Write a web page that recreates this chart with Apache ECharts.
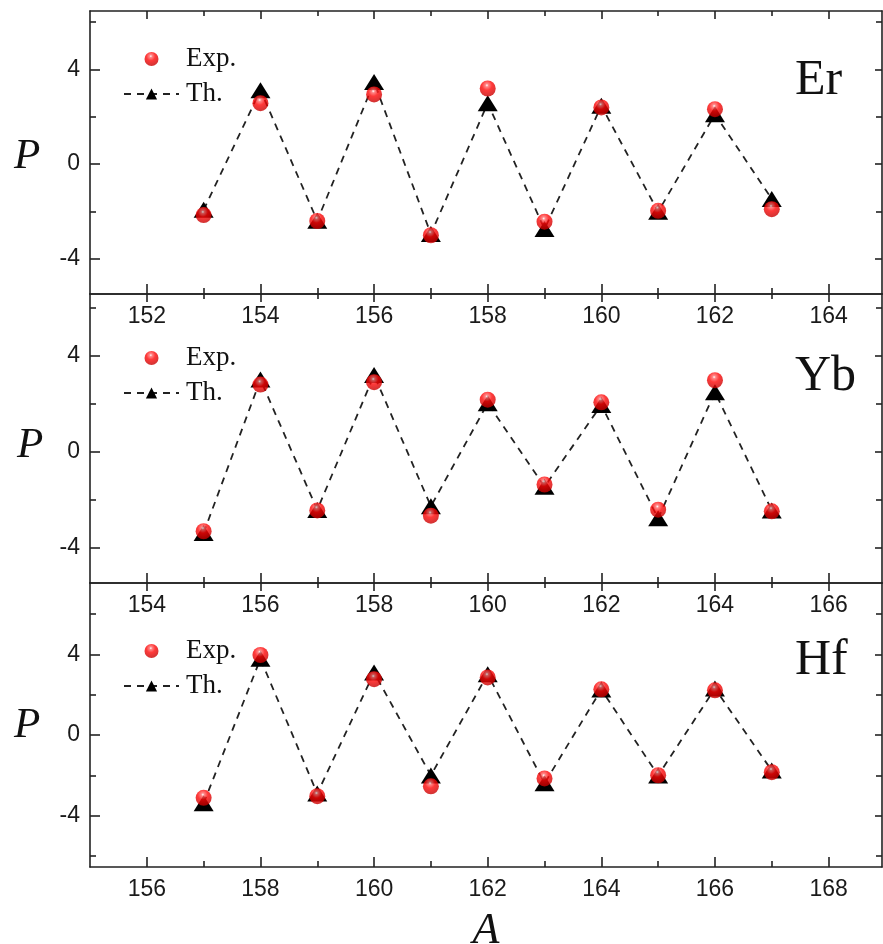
<!DOCTYPE html>
<html>
<head>
<meta charset="utf-8">
<script src="https://cdn.jsdelivr.net/npm/echarts@6/dist/echarts.min.js"></script>
<style>
html,body{margin:0;padding:0;background:#fff;}
#chart{width:883px;height:944px;}
</style>
</head>
<body>
<div id="chart"></div>
<script>
// ---- data ----
const elements = ['Er', 'Yb', 'Hf'];
const A_Er = [153, 154, 155, 156, 157, 158, 159, 160, 161, 162, 163];
const Er_exp = [-2.15, 2.57, -2.40, 2.94, -3.00, 3.19, -2.43, 2.39, -1.97, 2.32, -1.90];
const Er_th  = [-1.93, 3.12, -2.39, 3.46, -2.95, 2.57, -2.74, 2.46, -2.01, 2.10, -1.47];

const A_Yb = [155, 156, 157, 158, 159, 160, 161, 162, 163, 164, 165];
const Yb_exp = [-3.31, 2.81, -2.44, 2.91, -2.66, 2.18, -1.36, 2.07, -2.41, 2.99, -2.48];
const Yb_th  = [-3.38, 3.02, -2.42, 3.21, -2.27, 2.03, -1.45, 1.96, -2.77, 2.49, -2.44];

const A_Hf = [157, 158, 159, 160, 161, 162, 163, 164, 165, 166, 167];
const Hf_exp = [-3.11, 3.97, -3.03, 2.77, -2.54, 2.86, -2.15, 2.27, -1.99, 2.22, -1.84];
const Hf_th  = [-3.38, 3.78, -2.90, 3.10, -2.00, 3.02, -2.39, 2.26, -2.00, 2.31, -1.76];

// tick labels
const xMajor_Er = [152, 154, 156, 158, 160, 162, 164];
const xMinor_Er = [153, 155, 157, 159, 161, 163];
const xMajor_Yb = [154, 156, 158, 160, 162, 164, 166];
const xMinor_Yb = [155, 157, 159, 161, 163, 165];
const xMajor_Hf = [156, 158, 160, 162, 164, 166, 168];
const xMinor_Hf = [157, 159, 161, 163, 165, 167];
const yMajor = [-4, 0, 4];
const yMinor_Er = [-2, 2, 6];
const yMinor_Yb = [-2, 2, 6];
const yMinor_Hf = [-6, -2, 2, 6];

const legendNames = ['Exp.', 'Th.'];
const xAxisTitle = 'A';
const yAxisTitle = 'P';

// ---- layout (not data) ----
const panelData = [
  {A: A_Er, exp: Er_exp, th: Er_th, xMaj: xMajor_Er, xMin: xMinor_Er, yMin: yMinor_Er},
  {A: A_Yb, exp: Yb_exp, th: Yb_th, xMaj: xMajor_Yb, xMin: xMinor_Yb, yMin: yMinor_Yb},
  {A: A_Hf, exp: Hf_exp, th: Hf_th, xMaj: xMajor_Hf, xMin: xMinor_Hf, yMin: yMinor_Hf}
];
const layout = [
  {top: 11,  height: 283, xr: [151, 164.94], yr: [-5.48, 6.46], legendTop: 44,  titleTop: 56,  pX: 28, pY: 157},
  {top: 294, height: 289, xr: [153, 166.94], yr: [-5.47, 6.59], legendTop: 343, titleTop: 352, pX: 31, pY: 446},
  {top: 583, height: 284, xr: [155, 168.94], yr: [-6.54, 7.54], legendTop: 636, titleTop: 636, pX: 28, pY: 726}
];

const axisColor = '#222';
const lineSt = {color: axisColor, width: 1.6};
const sansFont = 'Liberation Sans, Arial, sans-serif';
const serifFont = 'Liberation Serif, Times New Roman, serif';

const ballColor = {
  type: 'radial', x: 0.45, y: 0.3, r: 0.7,
  colorStops: [
    {offset: 0, color: '#ffffff'},
    {offset: 0.14, color: '#ff6a6a'},
    {offset: 0.45, color: '#ff0808'},
    {offset: 1, color: '#c40000'}
  ]
};

const grids = [], xAxes = [], yAxes = [], series = [], legends = [], titles = [], graphics = [];

panelData.forEach((pd, g) => {
  const L = layout[g];
  grids.push({left: 90, width: 792, top: L.top, height: L.height, containLabel: false, outerBoundsMode: 'none'});

  const baseX = {type: 'value', gridIndex: g, min: L.xr[0], max: L.xr[1], splitLine: {show: false}};
  const xb = Object.assign({}, baseX, {
    position: 'bottom',
    axisLine: {show: true, onZero: false, lineStyle: lineSt},
    axisTick: {show: true, inside: true, length: 10, customValues: pd.xMaj, lineStyle: lineSt},
    axisLabel: {show: true, customValues: pd.xMaj, margin: 11, fontSize: 23, fontFamily: sansFont, color: '#1a1a1a'}
  });
  if (g === 2) {
    xb.name = xAxisTitle;
    xb.nameLocation = 'middle';
    xb.nameGap = 42;
    xb.nameTextStyle = {fontFamily: serifFont, fontStyle: 'italic', fontSize: 44, color: '#111'};
  }
  xAxes.push(xb);
  xAxes.push(Object.assign({}, baseX, {
    position: 'bottom',
    axisLine: {show: false, onZero: false},
    axisTick: {show: true, inside: true, length: 6, customValues: pd.xMin, lineStyle: lineSt},
    axisLabel: {show: false}
  }));
  xAxes.push(Object.assign({}, baseX, {
    position: 'top',
    axisLine: {show: true, onZero: false, lineStyle: lineSt},
    axisTick: {show: true, inside: true, length: 8, customValues: pd.xMaj, lineStyle: lineSt},
    axisLabel: {show: false}
  }));
  xAxes.push(Object.assign({}, baseX, {
    position: 'top',
    axisLine: {show: false, onZero: false},
    axisTick: {show: true, inside: true, length: 5, customValues: pd.xMin, lineStyle: lineSt},
    axisLabel: {show: false}
  }));

  const baseY = {type: 'value', gridIndex: g, min: L.yr[0], max: L.yr[1], splitLine: {show: false}};
  yAxes.push(Object.assign({}, baseY, {
    position: 'left',
    axisLine: {show: true, onZero: false, lineStyle: lineSt},
    axisTick: {show: true, inside: true, length: 10, customValues: yMajor, lineStyle: lineSt},
    axisLabel: {show: true, customValues: yMajor, margin: 10, fontSize: 23, fontFamily: sansFont, color: '#1a1a1a'}
  }));
  yAxes.push(Object.assign({}, baseY, {
    position: 'left',
    axisLine: {show: false, onZero: false},
    axisTick: {show: true, inside: true, length: 6, customValues: pd.yMin, lineStyle: lineSt},
    axisLabel: {show: false}
  }));
  yAxes.push(Object.assign({}, baseY, {
    position: 'right',
    axisLine: {show: true, onZero: false, lineStyle: lineSt},
    axisTick: {show: true, inside: true, length: 7, customValues: yMajor, lineStyle: lineSt},
    axisLabel: {show: false}
  }));
  yAxes.push(Object.assign({}, baseY, {
    position: 'right',
    axisLine: {show: false, onZero: false},
    axisTick: {show: true, inside: true, length: 6, customValues: pd.yMin, lineStyle: lineSt},
    axisLabel: {show: false}
  }));

  series.push({
    name: legendNames[1], type: 'line', xAxisIndex: 4 * g, yAxisIndex: 4 * g,
    data: pd.A.map((a, i) => [a, pd.th[i]]),
    symbol: 'triangle', symbolSize: [20, 16], showSymbol: true,
    itemStyle: {color: '#000'},
    lineStyle: {color: '#222', width: 1.8, type: [7, 6]},
    z: 2, animation: false
  });
  series.push({
    name: legendNames[0], type: 'scatter', xAxisIndex: 4 * g, yAxisIndex: 4 * g,
    data: pd.A.map((a, i) => [a, pd.exp[i]]),
    symbol: 'circle', symbolSize: 16,
    itemStyle: {color: ballColor},
    z: 3, animation: false
  });

  legends.push({
    orient: 'vertical', left: 123, top: L.legendTop, padding: 0,
    data: legendNames, itemWidth: 55, itemHeight: 14, itemGap: 5,
    selectedMode: false,
    textStyle: {fontFamily: serifFont, fontSize: 27, color: '#111', lineHeight: 30, padding: [0, 0, 0, 2]}
  });

  titles.push({
    text: elements[g], left: 795, top: L.titleTop, padding: 0,
    textStyle: {fontFamily: serifFont, fontSize: 50, fontWeight: 'normal', color: '#111'}
  });

  graphics.push({
    type: 'text', left: L.pX - 14, top: L.pY - 22, z: 10,
    style: {text: yAxisTitle, font: 'italic 43px ' + serifFont, fill: '#111'}
  });
});

const chart = echarts.init(document.getElementById('chart'), null, {renderer: 'canvas'});
chart.setOption({
  backgroundColor: '#fff',
  animation: false,
  title: titles,
  legend: legends,
  grid: grids,
  xAxis: xAxes,
  yAxis: yAxes,
  series: series,
  graphic: graphics
});
</script>
</body>
</html>
